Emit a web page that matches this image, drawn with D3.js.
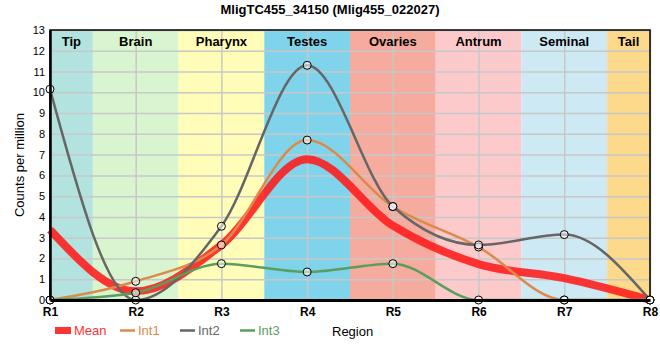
<!DOCTYPE html>
<html>
<head>
<meta charset="utf-8">
<script src="https://cdn.jsdelivr.net/npm/d3@7"></script>
<style>
  body { margin: 0; background: #fff; font-family: "Liberation Sans", Arial, sans-serif; }
</style>
</head>
<body>
<div id="chart"></div>
<script>
// region labels on x axis
let regions = ["R1", "R2", "R3", "R4", "R5", "R6", "R7", "R8"];

// tissue bands (start/end measured in region index)
let bandNames = ["Tip", "Brain", "Pharynx", "Testes", "Ovaries", "Antrum", "Seminal", "Tail"];
let bandStart = [0, 0.5, 1.5, 2.5, 3.5, 4.5, 5.5, 6.5];
let bandEnd = [0.5, 1.5, 2.5, 3.5, 4.5, 5.5, 6.5, 7];
let bandColors = ["#b3e3de", "#d8f5cf", "#fffdb8", "#7fd4ec", "#f5ab9e", "#fdcacb", "#cdeaf4", "#fdd98b"];

// series values
let int1 = [0, 0.9, 2.65, 7.7, 4.5, 2.55, 0, 0];
let int2 = [10.15, 0, 3.55, 11.3, 4.5, 2.65, 3.15, 0];
let int3 = [0, 0.35, 1.75, 1.35, 1.75, 0, 0, 0];
let meanVals = [3.38, 0.42, 2.65, 6.78, 3.58, 1.73, 1.05, 0];

let yTicks = d3.range(0, 14);

let margin = {top: 30, right: 10, bottom: 60, left: 50};
let width = 660 - margin.left - margin.right;
let height = 360 - margin.top - margin.bottom;

let svg = d3.select("#chart").append("svg")
    .attr("width", 660)
    .attr("height", 360);

let g = svg.append("g")
    .attr("transform", "translate(" + margin.left + "," + margin.top + ")");

let x = d3.scaleLinear().domain([0, regions.length - 1]).range([0, width]);
let y = d3.scaleLinear().domain([0, 13]).range([height, 0]);

// background bands
g.selectAll(".band")
    .data(bandNames)
    .enter().append("rect")
    .attr("class", "band")
    .attr("x", (d, i) => x(bandStart[i]))
    .attr("width", (d, i) => x(bandEnd[i]) - x(bandStart[i]))
    .attr("y", 0)
    .attr("height", height)
    .style("fill", (d, i) => bandColors[i]);

// grid
g.append("g")
    .call(d3.axisLeft(y).tickValues(yTicks).tickSize(-width).tickFormat(""))
    .call(a => a.select(".domain").remove())
    .selectAll("line").style("stroke", "#c8c8c8").style("stroke-width", 1.5);
g.append("g")
    .attr("transform", `translate(0,${height})`)
    .call(d3.axisBottom(x).ticks(7).tickSize(-height).tickFormat(""))
    .call(a => a.select(".domain").remove())
    .selectAll("line").style("stroke", "#c8c8c8").style("stroke-width", 1.5);

// band labels
g.selectAll(".bandLabel")
    .data(bandNames)
    .enter().append("text")
    .attr("x", (d, i) => (x(bandStart[i]) + x(bandEnd[i])) / 2)
    .attr("y", 16)
    .attr("text-anchor", "middle")
    .style("font-size", "13px")
    .style("font-weight", "bold")
    .text(d => d);

// frame
g.append("rect")
    .attr("width", width).attr("height", height)
    .style("fill", "none").style("stroke", "#000").style("stroke-width", 1.5);

let line = d3.line()
    .x((d, i) => x(i))
    .y(d => y(d))
    .curve(d3.curveMonotoneX);

let series = [
    {name: "Int1", values: int1, color: "#dc8a4c", width: 2.5},
    {name: "Int2", values: int2, color: "#666666", width: 2.5},
    {name: "Int3", values: int3, color: "#5a9e5e", width: 2.5}
];

// mean line first (under the others)
g.append("path")
    .datum(meanVals)
    .attr("d", line)
    .style("fill", "none")
    .style("stroke", "#ff1a1a")
    .style("stroke-opacity", 0.88)
    .style("stroke-width", 8);

g.selectAll(".line")
    .data(series)
    .enter().append("path")
    .attr("class", "line")
    .attr("d", d => line(d.values))
    .style("fill", "none")
    .style("stroke", d => d.color)
    .style("stroke-width", d => d.width);

// points
series.forEach(s => {
    g.selectAll(".pt-" + s.name)
        .data(s.values)
        .enter().append("circle")
        .attr("cx", (d, i) => x(i))
        .attr("cy", d => y(d))
        .attr("r", 4)
        .style("fill", "rgba(255,255,255,0.55)")
        .style("stroke", "#000")
        .style("stroke-width", 1);
});

// axes
let yAxis = g.append("g")
    .call(d3.axisLeft(y).tickValues(yTicks).tickSize(0).tickPadding(5));
yAxis.select(".domain").style("stroke", "#000").style("stroke-width", 2.5);
yAxis.selectAll("text").style("font-size", "11px").style("font-family", "Liberation Sans, Arial, sans-serif");

let xAxis = g.append("g")
    .attr("transform", `translate(0,${height})`)
    .call(d3.axisBottom(x).ticks(7).tickSize(0).tickPadding(7).tickFormat((d, i) => regions[i]));
xAxis.select(".domain").style("stroke", "#000").style("stroke-width", 3);
xAxis.selectAll("text").style("font-size", "12px").style("font-weight", "bold").style("font-family", "Liberation Sans, Arial, sans-serif");

// title
svg.append("text")
    .attr("x", 330).attr("y", 14)
    .attr("text-anchor", "middle")
    .style("font-size", "13px").style("font-weight", "bold")
    .text("MligTC455_34150 (Mlig455_022027)");

// axis labels
svg.append("text")
    .attr("transform", "translate(24," + (margin.top + height / 2) + ") rotate(-90)")
    .attr("text-anchor", "middle")
    .style("font-size", "13px")
    .text("Counts per million");

svg.append("text")
    .attr("x", 332).attr("y", 336)
    .style("font-size", "13px")
    .text("Region");

// legend
let legendItems = [
    {name: "Mean", color: "#ff3333", x: 55, thick: true},
    {name: "Int1", color: "#dc8a4c", x: 120},
    {name: "Int2", color: "#666666", x: 180},
    {name: "Int3", color: "#5a9e5e", x: 240}
];
let legend = svg.append("g");
legendItems.forEach(it => {
    if (it.thick) {
        legend.append("rect").attr("x", it.x).attr("y", 327).attr("width", 16).attr("height", 7).style("fill", it.color);
    } else {
        legend.append("line").attr("x1", it.x).attr("x2", it.x + 15).attr("y1", 330.5).attr("y2", 330.5)
            .style("stroke", it.color).style("stroke-width", 2.5);
    }
    legend.append("text")
        .attr("x", it.x + (it.thick ? 19 : 18)).attr("y", 335)
        .style("font-size", "13px").style("fill", it.color)
        .text(it.name);
});
</script>
</body>
</html>
